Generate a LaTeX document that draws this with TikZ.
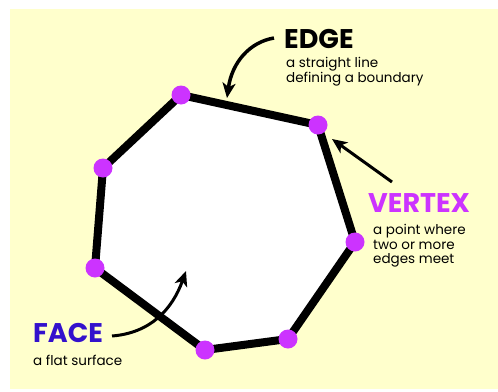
\documentclass[tikz,border=0pt]{standalone}
\usepackage{fontspec}
\setmainfont{Poppins}
\usetikzlibrary{arrows.meta}
\definecolor{bg}{HTML}{FFFFCC}
\definecolor{vcol}{HTML}{CC33FF}
\definecolor{fcol}{HTML}{3311CC}
\tikzset{
  vdot/.style={circle, fill=vcol, minimum size=19pt, inner sep=0pt},
  head/.style={inner sep=0pt, anchor=base west, font=\fontsize{27}{27}\selectfont\bfseries},
  sub/.style={inner sep=0pt, anchor=base west, font=\fontsize{13.5}{15}\selectfont},
  pointer/.style={line width=3pt, -{Stealth[length=15pt,width=13pt,inset=4pt]}},
}
\begin{document}
\begin{tikzpicture}[x=1pt,y=-1pt]
\useasboundingbox (0,0) rectangle (498,391);
\fill[bg] (10,9) rectangle (498,389);
\coordinate (v1) at (181,95);
\coordinate (v2) at (318,125);
\coordinate (v3) at (355,242);
\coordinate (v4) at (288,339);
\coordinate (v5) at (205,350);
\coordinate (v6) at (95,268);
\coordinate (v7) at (103,168);
\filldraw[fill=white, draw=black, line width=8pt, line join=miter]
  (v1) -- (v2) -- (v3) -- (v4) -- (v5) -- (v6) -- (v7) -- cycle;
\foreach \i in {1,...,7} \node[vdot] (d\i) at (v\i) {};
% EDGE
\node[head] (edge) at (284,48) {EDGE};
\node[sub] (edge1) at (286,67) {a straight line};
\node[sub] (edge2) at (286,82) {defining a boundary};
\coordinate (etail) at (274,38);
\coordinate (etip) at (227,98);
\draw[pointer, line width=3.5pt] (etail) .. controls (250,42) and (232,62) .. (etip);
% VERTEX
\node[head, text=vcol] (vertex) at (368,212) {VERTEX};
\node[sub] (vertex1) at (373,234) {a point where};
\node[sub] (vertex2) at (373,249) {two or more};
\node[sub] (vertex3) at (373,263) {edges meet};
\coordinate (vtail) at (392,182);
\coordinate (vtip) at (332,139);
\draw[pointer] (vtail) -- (vtip);
% FACE
\node[head, text=fcol] (face) at (33,342) {FACE};
\node[sub] (face1) at (33,365) {a flat surface};
\coordinate (ftail) at (112,336);
\coordinate (ftip) at (186,271);
\draw[pointer] (ftail) .. controls (150,333) and (172,310) .. (ftip);
\end{tikzpicture}
\end{document}
